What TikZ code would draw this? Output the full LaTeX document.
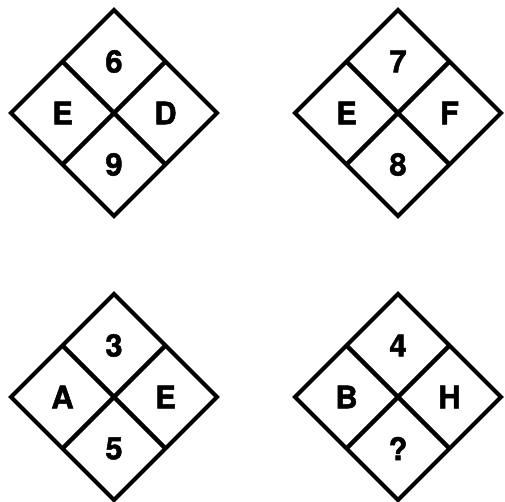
\documentclass[tikz,border=0pt]{standalone}
\usepackage{fontspec}
\setmainfont{TeX Gyre Heros}
\newfontfamily\cellfont{TeX Gyre Heros}[BoldFeatures={FakeBold=1.6}]
\usepackage{tikz}
\usetikzlibrary{shapes.geometric,calc}

\begin{document}
\begin{tikzpicture}[
  x=1pt,y=-1pt,
  board/.style={diamond,draw=black,line width=4pt,minimum size=206pt,inner sep=0pt,outer sep=0pt,miter limit=10},
  split/.style={draw=black,line width=4.4pt},
  cell/.style={font=\cellfont\fontsize{31}{31}\selectfont\bfseries,inner sep=0pt}
]
  \useasboundingbox (0,0) rectangle (505,502);

  % one board per puzzle: name/centre x/centre y/top/left/right/bottom
  \foreach \n/\cx/\cy/\t/\l/\r/\b in {a/114/113/6/E/D/9, b/398/113/7/E/F/8,
                                      c/114/397/3/A/E/5, d/398/397/4/B/H/?}{
    \node[board] (\n) at (\cx,\cy) {};
    \draw[split] (\n.north west) -- (\n.south east);
    \draw[split] (\n.north east) -- (\n.south west);
    \node[cell] (\n-top) at ($(\n)!0.5!(\n.north)$) {\t};
    \node[cell] (\n-left) at ($(\n)!0.5!(\n.west)$) {\l};
    \node[cell] (\n-right) at ($(\n)!0.5!(\n.east)$) {\r};
    \node[cell] (\n-bottom) at ($(\n)!0.5!(\n.south)$) {\b};
  }
\end{tikzpicture}
\end{document}
